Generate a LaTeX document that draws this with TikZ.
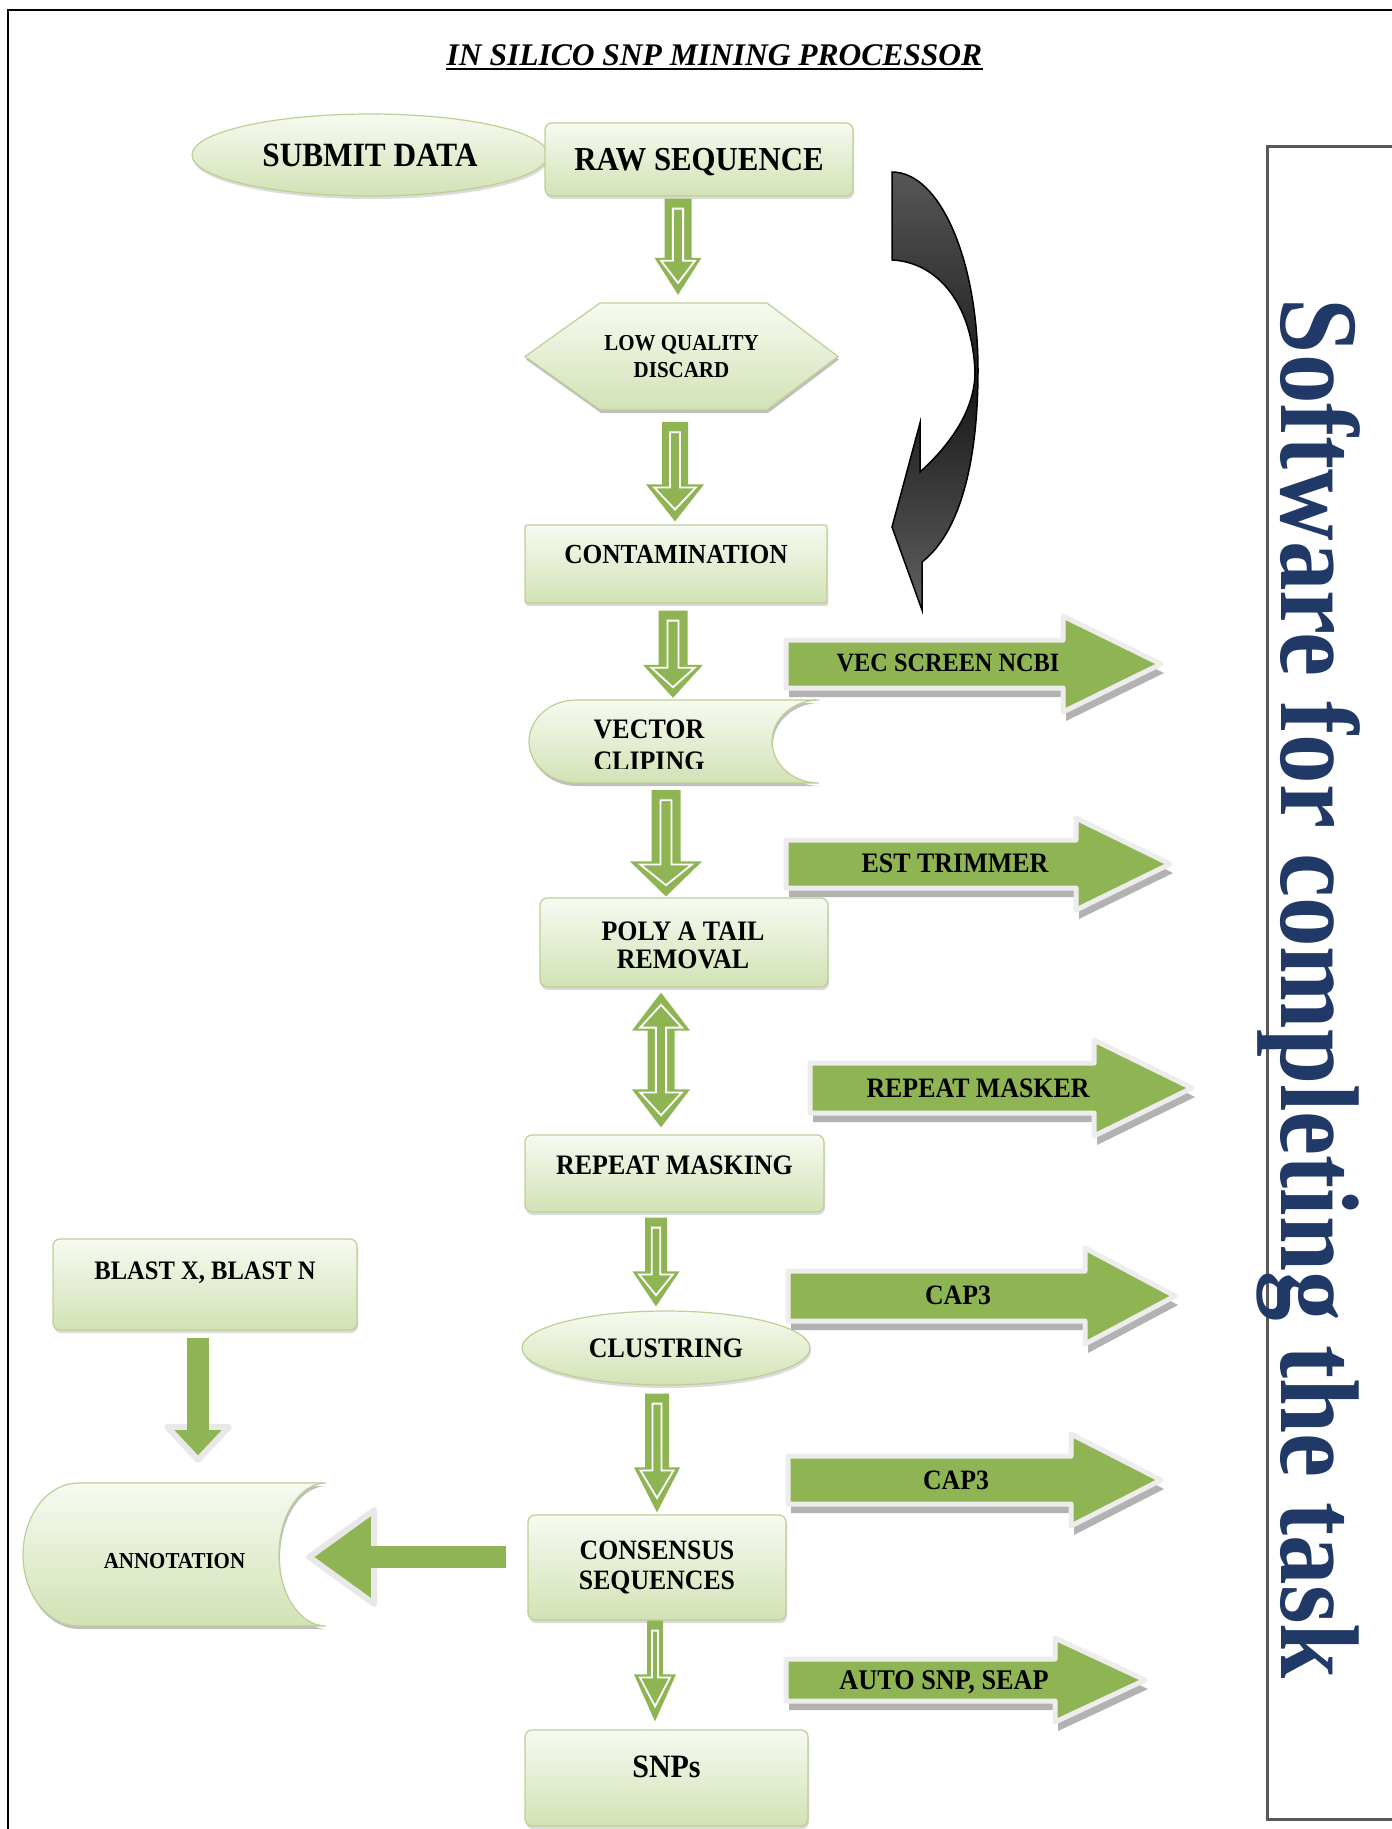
\documentclass[tikz,border=0pt]{standalone}
\usepackage{graphicx}
\usepackage{fontspec}
\setmainfont{Liberation Serif}
\newfontfamily\cond[FakeStretch=0.92]{Liberation Serif}
\usetikzlibrary{shapes.geometric,shadows,calc}
\definecolor{ntop}{RGB}{247,250,241}
\definecolor{nbot}{RGB}{210,226,181}
\definecolor{nedge}{RGB}{188,208,148}
\definecolor{agreen}{RGB}{143,180,84}
\definecolor{navy}{RGB}{33,57,102}
\newcommand\lifted[2]{\raisebox{\dimexpr #1pt-0.33em\relax}[0pt][0pt]{#2}}
\tikzset{
 gfill/.style={draw=nedge, line width=1.2pt, top color=ntop, bottom color=nbot},
 gbox/.style={gfill, rounded corners=7pt, inner sep=0pt, drop shadow={opacity=0.28, shadow xshift=1pt, shadow yshift=-3pt}},
 gell/.style={gfill, ellipse, inner sep=0pt, drop shadow={opacity=0.28, shadow xshift=1pt, shadow yshift=-3pt}},
 lab/.style 2 args={font=\cond\bfseries\fontsize{#1}{#2}\selectfont},
 txt/.style={inner sep=0pt},
 sshadow/.style={fill=black, opacity=0.25, shift={(1,3)}},
}
% down block arrow: from, to, x, shaft half, head half, head length, top gap, bottom gap
\newcommand\downblk[8]{%
 \fill[agreen] let \p1=(#1.south), \p2=(#2.north) in
  (#3-#4,\y1-#7) -- (#3+#4,\y1-#7) -- (#3+#4,\y2+#8+#6) -- (#3+#5,\y2+#8+#6) -- (#3,\y2+#8) -- (#3-#5,\y2+#8+#6) -- (#3-#4,\y2+#8+#6) -- cycle;
 \draw[white, line width=1.8pt, line join=miter] let \p1=(#1.south), \p2=(#2.north) in
  (#3-0.38*#4,\y1-#7-10) -- (#3+0.38*#4,\y1-#7-10) -- (#3+0.38*#4,\y2+#8+#6-3) -- (#3+0.72*#5,\y2+#8+#6-3) -- (#3,\y2+#8+0.32*#6) -- (#3-0.72*#5,\y2+#8+#6-3) -- (#3-0.38*#4,\y2+#8+#6-3) -- cycle;
}
\newcommand\dblblk[8]{%
 \fill[agreen] let \p1=(#1.south), \p2=(#2.north) in
  (#3,\y1-#7) -- (#3+#5,\y1-#7-#6) -- (#3+#4,\y1-#7-#6) -- (#3+#4,\y2+#8+#6) -- (#3+#5,\y2+#8+#6) -- (#3,\y2+#8) -- (#3-#5,\y2+#8+#6) -- (#3-#4,\y2+#8+#6) -- (#3-#4,\y1-#7-#6) -- (#3-#5,\y1-#7-#6) -- cycle;
 \draw[white, line width=1.8pt, line join=miter] let \p1=(#1.south), \p2=(#2.north) in
  (#3,\y1-#7-0.32*#6) -- (#3+0.72*#5,\y1-#7-#6+3) -- (#3+0.38*#4,\y1-#7-#6+3) -- (#3+0.38*#4,\y2+#8+#6-3) -- (#3+0.72*#5,\y2+#8+#6-3) -- (#3,\y2+#8+0.32*#6) -- (#3-0.72*#5,\y2+#8+#6-3) -- (#3-0.38*#4,\y2+#8+#6-3) -- (#3-0.38*#4,\y1-#7-#6+3) -- (#3-0.72*#5,\y1-#7-#6+3) -- cycle;
}
\newcommand\downsolid[8]{%
 \filldraw[fill=agreen, draw=black!9, line width=6pt, line join=round] let \p1=(#1.south), \p2=(#2.north) in
  (#3+#5,\y2+#8+#6) -- (#3,\y2+#8) -- (#3-#5,\y2+#8+#6) -- cycle;
 \fill[agreen] let \p1=(#1.south), \p2=(#2.north) in
  (#3-#4,\y1-#7) rectangle (#3+#4,\y2+#8+#6-4);
}
% right block arrow: left x, head base x, tip x, centre y, shaft half, head half
\newcommand\rblk[6]{%
 \fill[black!30, shift={(3,9)}] (#1,#4-#5) -- (#2,#4-#5) -- (#2,#4-#6) -- (#3,#4) -- (#2,#4+#6) -- (#2,#4+#5) -- (#1,#4+#5) -- cycle;
 \filldraw[fill=agreen, draw=black!7, line width=5pt, line join=round] (#1,#4-#5) -- (#2,#4-#5) -- (#2,#4-#6) -- (#3,#4) -- (#2,#4+#6) -- (#2,#4+#5) -- (#1,#4+#5) -- cycle;
}
\begin{document}
\begin{tikzpicture}[x=1pt,y=-1pt]
\useasboundingbox (0,0) rectangle (1392,1829);
\clip (0,0) rectangle (1392,1829);
\fill[white] (0,0) rectangle (1392,1829);

% frames
\draw[line width=2.5pt] (8,1900) -- (8,10) -- (1450,10);
\draw[black!65, line width=3pt] (1450,146) -- (1267,146) -- (1267,1819) -- (1450,1819);
\node[txt, rotate=-90, text=navy, font=\bfseries\fontsize{112}{112}\selectfont] (soft) at (1318,989)
  {\scalebox{0.885}[1]{\lifted{0}{Software for completing the task}}};

% title
\node[txt, font=\bfseries\itshape\fontsize{31.5}{36}\selectfont] (title) at (714.5,55) {\lifted{0}{IN SILICO SNP MINING PROCESSOR}};
\draw[line width=2.5pt] ([yshift=-14pt]title.west) -- ([yshift=-14pt]title.east);

% curved dark arrow
\shadedraw[top color=black!66, bottom color=black!62, middle color=black!90, draw=black, line width=1.5pt, line join=miter]
 (892,172) .. controls (940,172) and (978,260) .. (978,370)
 .. controls (978,470) and (957,535) .. (922,562)
 -- (922,610) -- (892,527) -- (920,423) -- (920,472)
 .. controls (950,445) and (975,410) .. (975,372)
 .. controls (972,300) and (935,262) .. (892,260) -- cycle;

% right-hand software arrows
\rblk{786}{1063}{1161}{664}{24}{48}
\node[txt, lab={26.4}{30}] (vsn) at (948,663) {\lifted{0}{VEC SCREEN NCBI}};
\rblk{786}{1076}{1170}{864}{24}{46}
\node[txt, lab={28.2}{30}] (est) at (955,863) {\lifted{0}{EST TRIMMER}};
\rblk{810}{1094}{1192}{1088}{25}{48}
\node[txt, lab={28.1}{30}] (rmk) at (978,1088) {\lifted{0}{REPEAT MASKER}};
\rblk{788}{1085}{1175}{1296}{25}{48}
\node[txt, lab={28}{30}] (capa) at (958,1295) {\lifted{0}{CAP3}};
\rblk{788}{1071}{1161}{1480}{24}{46}
\node[txt, lab={28}{30}] (capb) at (956,1480) {\lifted{0}{CAP3}};
\rblk{786}{1055}{1145}{1680}{21}{42}
\node[txt, lab={28.5}{30}] (auto) at (944,1680) {\lifted{0}{AUTO SNP, SEAP}};

% main column
\node[gell, minimum width=356, minimum height=82, lab={34}{40}] (submit) at (370,155) {\lifted{0}{SUBMIT DATA}};
\node[gbox, minimum width=308, minimum height=73, lab={33.5}{40}] (raw) at (699,159.5) {\lifted{0}{RAW SEQUENCE}};

\fill[sshadow] (525,356.5) -- (600,303) -- (767,303) -- (838,356.5) -- (767,410) -- (600,410) -- cycle;
\path[gfill] (525,356.5) -- (600,303) -- (767,303) -- (838,356.5) -- (767,410) -- (600,410) -- cycle;
\node[txt, minimum width=313, minimum height=107, align=center, lab={22.8}{27}] (low) at (681.5,356.5) {LOW QUALITY\\DISCARD};

\node[gbox, rounded corners=2pt, minimum width=302, minimum height=78, lab={27.6}{33}] (cont) at (676,564) {\lifted{10}{CONTAMINATION}};

\fill[sshadow] (576,700) -- (819,700) .. controls (793,700) and (772,719) .. (772,741.5) .. controls (772,764) and (793,783) .. (819,783) -- (576,783) .. controls (550,783) and (529,764) .. (529,741.5) .. controls (529,719) and (550,700) .. (576,700) -- cycle;
\path[gfill] (576,700) -- (819,700) .. controls (793,700) and (772,719) .. (772,741.5) .. controls (772,764) and (793,783) .. (819,783) -- (576,783) .. controls (550,783) and (529,764) .. (529,741.5) .. controls (529,719) and (550,700) .. (576,700) -- cycle;
\begin{scope}
\clip (520,690) rectangle (830,768.5);
\node[txt, minimum width=260, minimum height=83, align=center, lab={28.2}{32}] (vec) at (649,745) {VECTOR\\CLIPING};
\end{scope}

\node[gbox, minimum width=288, minimum height=89] (poly) at (684,942.5) {};
\begin{scope}
\clip (530,890) rectangle (840,968.5);
\node[txt, align=center, lab={28.2}{28}] (polytext) at (683,945) {POLY A TAIL\\REMOVAL};
\end{scope}

\node[gbox, minimum width=299, minimum height=77, lab={28.2}{33}] (rep) at (674.5,1173.5) {\lifted{8}{REPEAT MASKING}};
\node[gell, minimum width=288, minimum height=74, lab={28.2}{33}] (clus) at (666,1348) {\lifted{0}{CLUSTRING}};
\node[gbox, minimum width=258, minimum height=105, align=center, lab={28}{30}] (cons) at (657,1567.5) {CONSENSUS\\SEQUENCES};
\node[gbox, minimum width=283, minimum height=96, lab={32.6}{36}] (snps) at (666.5,1778) {\lifted{11}{SNPs}};

% left branch
\node[gbox, minimum width=304, minimum height=91, lab={26.7}{30}] (blast) at (205,1284.5) {\lifted{14}{BLAST X, BLAST N}};
\fill[sshadow] (78,1483) -- (326,1483) .. controls (300,1483) and (279,1515) .. (279,1555) .. controls (279,1594) and (300,1626) .. (326,1626) -- (78,1626) .. controls (48,1626) and (23,1594) .. (23,1555) .. controls (23,1515) and (48,1483) .. (78,1483) -- cycle;
\path[gfill] (78,1483) -- (326,1483) .. controls (300,1483) and (279,1515) .. (279,1555) .. controls (279,1594) and (300,1626) .. (326,1626) -- (78,1626) .. controls (48,1626) and (23,1594) .. (23,1555) .. controls (23,1515) and (48,1483) .. (78,1483) -- cycle;
\node[txt, minimum width=303, minimum height=143, lab={22.8}{27}] (annot) at (174.5,1554.5) {\lifted{-6}{ANNOTATION}};

% flow arrows
\downblk{raw}{low}{678}{13.5}{23.5}{37}{2}{8}
\downblk{low}{cont}{675}{13}{29}{37}{12}{3}
\downblk{cont}{vec}{673}{14.5}{30}{33}{7}{5.5}
\downblk{vec}{poly}{666}{14.5}{36}{35}{3.5}{1}
\dblblk{poly}{rep}{661}{13.5}{29}{38}{5}{7}
\downblk{rep}{clus}{656}{11}{23.5}{35}{5}{4}
\downblk{clus}{cons}{657}{12}{23}{45}{8}{2}
\downblk{cons}{snps}{655}{8}{21}{47}{0}{8}
\downsolid{blast}{annot}{198}{11}{31}{33}{7}{23}

% consensus -> annotation
\filldraw[fill=agreen, draw=black!9, line width=6pt, line join=round] let \p1=(cons.west), \p2=(annot.east) in
  (\x2+48,\y1+57.5) -- (\x2-17,\y1+10.5) -- (\x2+48,\y1-36.5) -- cycle;
\fill[agreen] let \p1=(cons.west), \p2=(annot.east) in
  (\x1-21,\y1+21.5) rectangle (\x2+44,\y1-0.5);
\end{tikzpicture}
\end{document}
